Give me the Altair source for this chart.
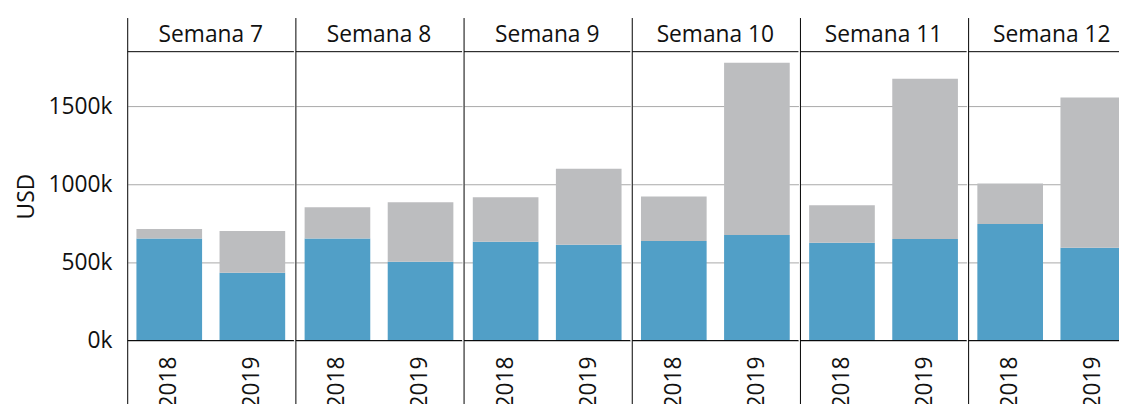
import altair as alt
import pandas as pd

weeks = ["Semana 7", "Semana 8", "Semana 9", "Semana 10", "Semana 11", "Semana 12"]
years = ["2018", "2019"]
# blue (bottom) segment per week
blue_2018 = [653000, 653000, 632000, 638000, 626000, 746000]
blue_2019 = [435000, 505000, 613000, 676000, 651000, 594000]
# total bar height (top of grey segment)
total_2018 = [714000, 854000, 917000, 923000, 866000, 1006000]
total_2019 = [702000, 885000, 1101000, 1779000, 1677000, 1557000]
y_ticks = [0, 500000, 1000000, 1500000]

rows = []
for i, w in enumerate(weeks):
    for y, b, t in ((years[0], blue_2018[i], total_2018[i]), (years[1], blue_2019[i], total_2019[i])):
        rows.append({"week": w, "year": y, "seg": "a", "order": 0, "value": b})
        rows.append({"week": w, "year": y, "seg": "b", "order": 1, "value": t - b})
df = pd.DataFrame(rows)

W = 168
H = 292
FONT = "Open Sans"
FS = 23
TXT = "#111111"

xscale = alt.Scale(domain=years, paddingInner=0.21, paddingOuter=0.105)

bars = alt.Chart().mark_bar().encode(
    x=alt.X("year:N", scale=xscale, axis=None),
    y=alt.Y("value:Q", stack="zero", title="USD",
            scale=alt.Scale(domain=[0, 1850000], nice=False),
            axis=alt.Axis(values=y_ticks,
                          labelExpr="format(datum.value / 1000, 'd') + 'k'",
                          ticks=False, domain=False, labelPadding=15,
                          gridColor="#a8a8a8", labelFontSize=FS, labelFont=FONT,
                          labelColor=TXT, titleFontSize=FS, titleFont=FONT,
                          titleFontWeight="normal", titleColor=TXT, titlePadding=10)),
    color=alt.Color("seg:N", scale=alt.Scale(domain=["a", "b"], range=["#519fc7", "#bcbdbf"]),
                    legend=None),
    order=alt.Order("order:Q"),
)

one_per_cell = "datum.year == '2018' && datum.seg == 'a'"

vline = alt.Chart().transform_filter(one_per_cell).mark_rule(color="#000000", strokeWidth=1).encode(
    x=alt.value(0), y=alt.value(-34), y2=alt.value(H + 80)
)
topline = alt.Chart().transform_filter(one_per_cell).mark_rule(color="#000000", strokeWidth=1).encode(
    x=alt.value(0), x2=alt.value(W), y=alt.value(0)
)
bottomline = alt.Chart().transform_filter(one_per_cell).mark_rule(color="#000000", strokeWidth=1).encode(
    x=alt.value(0), x2=alt.value(W), y=alt.value(H)
)
week_label = alt.Chart().transform_filter(one_per_cell).mark_text(
    font=FONT, fontSize=FS, color=TXT, baseline="alphabetic", align="center"
).encode(x=alt.value(W / 2), y=alt.value(-10), text="week:N")

year_label = alt.Chart().transform_filter("datum.seg == 'a'").mark_text(
    font=FONT, fontSize=FS, color=TXT, angle=270, align="right", baseline="middle"
).encode(x=alt.X("year:N", scale=xscale, axis=None), y=alt.value(H + 16), text="year:N")

chart = alt.layer(bars, vline, topline, bottomline, week_label, year_label, data=df).properties(
    width=W, height=H
).facet(
    column=alt.Column("week:N", sort=weeks, title=None, header=alt.Header(labels=False))
).properties(
    padding={"left": 7, "top": 7, "right": -17, "bottom": -17}
).configure_facet(spacing=0).configure_view(stroke=None)

chart.save("out.html", embed_options={"renderer": "svg", "actions": False})
